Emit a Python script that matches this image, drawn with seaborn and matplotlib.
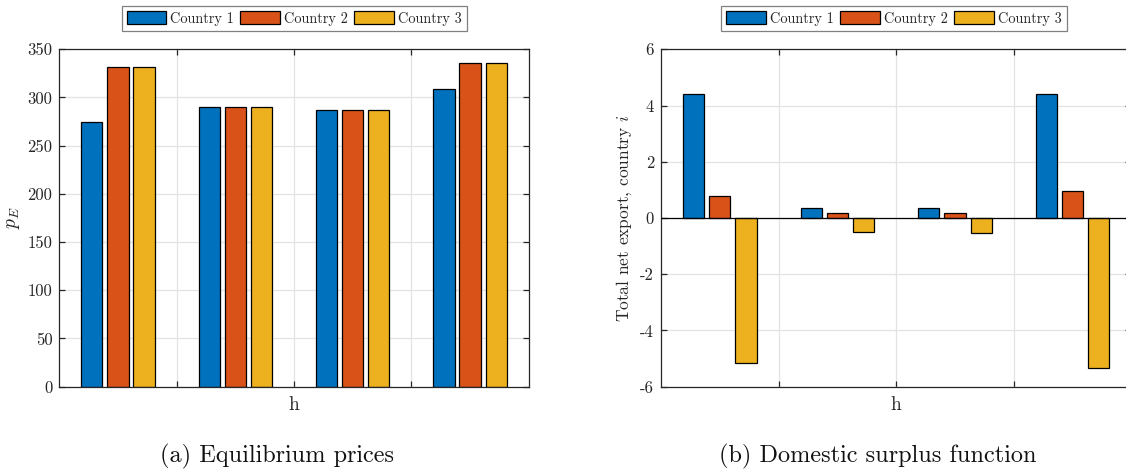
import matplotlib
matplotlib.use("Agg")
import matplotlib.pyplot as plt
import numpy as np
import pandas as pd
import seaborn as sns

# ---------------- data ----------------
groups = ["1", "2", "3", "4"]
countries = ["Country 1", "Country 2", "Country 3"]

price_c1 = [274.8, 290.6, 286.9, 308.7]
price_c2 = [331.5, 290.6, 286.9, 336.0]
price_c3 = [331.5, 290.6, 286.9, 336.0]

export_c1 = [4.40, 0.35, 0.37, 4.40]
export_c2 = [0.80, 0.18, 0.18, 0.96]
export_c3 = [-5.17, -0.51, -0.53, -5.35]

price_ticks = [0, 50, 100, 150, 200, 250, 300, 350]
export_ticks = [-6, -4, -2, 0, 2, 4, 6]

colors = ["#0072BD", "#D95319", "#EDB120"]

# ---------------- style ----------------
sns.set_theme(style="white")
plt.rcParams.update({
    "font.family": ["cmr10", "DejaVu Serif"],
    "mathtext.fontset": "cm",
    "axes.unicode_minus": False,
    "axes.formatter.use_mathtext": True,
    "axes.edgecolor": "#262626",
    "axes.linewidth": 0.9,
})


def to_long(series):
    rows = []
    for name, vals in zip(countries, series):
        for g, v in zip(groups, vals):
            rows.append({"group": g, "country": name, "value": v})
    return pd.DataFrame(rows)


W, H = 1126, 471
fig = plt.figure(figsize=(W / 100, H / 100), dpi=100)

axL = fig.add_axes([59.3 / W, 1 - 386.7 / H, (528.7 - 59.3) / W, (386.7 - 49.3) / H])
axR = fig.add_axes([661 / W, 1 - 386.7 / H, (1131.4 - 661) / W, (386.7 - 49.3) / H])

panels = [
    (axL, to_long([price_c1, price_c2, price_c3]), price_ticks, (0, 350), r"$p_E$", 294.2, 14),
    (axR, to_long([export_c1, export_c2, export_c3]), export_ticks, (-6, 6),
     r"Total net export, country $i$", 894.0, 12.5),
]

for ax, df, yt, ylim, ylab, legx, ylfs in panels:
    sns.barplot(data=df, x="group", y="value", hue="country", palette=colors,
                saturation=1, width=0.667, gap=0.19, edgecolor="black",
                linewidth=0.9, errorbar=None, ax=ax)
    ax.set_xlim(-0.5, 3.5)
    ax.set_ylim(*ylim)
    ax.set_yticks(yt)
    ax.set_yticklabels([str(v) for v in yt])
    ax.set_xticks([0.5, 1.5, 2.5])
    ax.set_xticklabels([])
    ax.grid(True, color="#e3e3e3", linewidth=0.9)
    ax.set_axisbelow(True)
    for s in ax.spines.values():
        s.set_visible(True)
        s.set_color("#262626")
        s.set_linewidth(0.9)
    ax.tick_params(direction="in", top=True, right=True, bottom=True, left=True,
                   length=4, width=0.9, color="#262626", labelsize=12, pad=5,
                   labelcolor="#262626")
    ax.set_xlabel("h", fontsize=14, labelpad=2, color="#262626")
    ax.set_ylabel(ylab, fontsize=ylfs, color="#262626")
    handles, labels = ax.get_legend_handles_labels()
    ax.legend(handles, labels, loc="center", ncol=3,
              bbox_to_anchor=(legx / W, 1 - 18.6 / H), bbox_transform=fig.transFigure,
              fancybox=False, framealpha=1, edgecolor="#808080", fontsize=10.3,
              handlelength=2.75, handleheight=1.0, handletextpad=0.3,
              columnspacing=0.45, borderpad=0.35, borderaxespad=0)
    ax.get_legend().get_frame().set_linewidth(0.9)

axR.axhline(0, color="black", linewidth=0.9, zorder=3)

fig.text(277 / W, 1 - 456 / H, "(a) Equilibrium prices", ha="center", va="center",
         fontsize=17.5, color="#111111")
fig.text(877.5 / W, 1 - 456 / H, "(b) Domestic surplus function", ha="center", va="center",
         fontsize=17.5, color="#111111")

fig.savefig("out.png", dpi=100)
